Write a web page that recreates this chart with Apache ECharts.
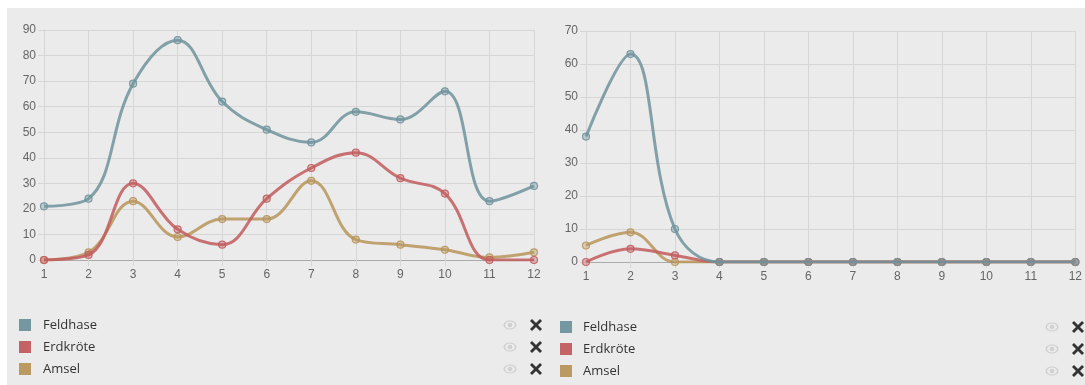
<!DOCTYPE html>
<html><head><meta charset="utf-8">
<script src="https://cdn.jsdelivr.net/npm/echarts@6/dist/echarts.min.js"></script>
<style>html,body{margin:0;padding:0;background:#fff}#c{width:1085px;height:385px}</style>
</head><body><div id="c"></div>
<script>
const months = ['1','2','3','4','5','6','7','8','9','10','11','12'];
const seriesNames = ['Feldhase','Erdkröte','Amsel'];
const seriesColors = ['#6f939c','#c25c5e','#b8955c'];
const leftFeldhase = [21,24,69,86,62,51,46,58,55,66,23,29];
const leftErdkroete = [0,2,30,12,6,24,36,42,32,26,0,0];
const leftAmsel = [0,3,23,9,16,16,31,8,6,4,1,3];
const rightFeldhase = [38,63,10,0,0,0,0,0,0,0,0,0];
const rightErdkroete = [0,4,2,0,0,0,0,0,0,0,0,0];
const rightAmsel = [5,9,0,0,0,0,0,0,0,0,0,0];
const leftYTicks = {min:0,max:90,interval:10};
const rightYTicks = {min:0,max:70,interval:10};

const chart = echarts.init(document.getElementById('c'));
const labelFont = {color:'#666',fontSize:12,fontFamily:'Liberation Sans, Arial, sans-serif'};
function xAxis(i){return {type:'category',gridIndex:i,data:months,boundaryGap:false,
  axisLine:{lineStyle:{color:'#aaa',width:1}},axisTick:{show:true,length:6,alignWithLabel:true,lineStyle:{color:'#d6d6d6'}},
  axisLabel:Object.assign({margin:9},labelFont),splitLine:{show:true,lineStyle:{color:'#d6d6d6'}}};}
function yAxis(i,t){return {type:'value',gridIndex:i,min:t.min,max:t.max,interval:t.interval,
  axisLine:{show:true,lineStyle:{color:'#d6d6d6'}},axisTick:{show:true,length:6,lineStyle:{color:'#d6d6d6'}},
  axisLabel:Object.assign({margin:8},labelFont),splitLine:{show:true,lineStyle:{color:'#d6d6d6'}}};}
function line(name,data,idx,gi){
  const c=seriesColors[idx];
  return {type:'line',name:name,xAxisIndex:gi,yAxisIndex:gi,data:data,smooth:0.4,
    symbol:'circle',symbolSize:7,showSymbol:true,
    lineStyle:{color:c,width:3,opacity:0.85},
    itemStyle:{color:echarts.color.modifyAlpha(c,0.4),borderColor:c,borderWidth:1.2,opacity:0.9},
    z:10-idx,animation:false};
}
const graphics=[{type:'rect',shape:{x:7,y:8,width:1078,height:377},style:{fill:'#ebebeb'},z:-10}];
function legend(x0,textX,eyeX,crossX,yc){
  seriesNames.forEach((n,i)=>{
    const y=yc+i*22;
    graphics.push({type:'rect',shape:{x:x0,y:y-6,width:12,height:12},style:{fill:seriesColors[i],opacity:0.95}});
    graphics.push({type:'text',x:textX,y:y,style:{text:n,fill:'#333',fontSize:13,fontFamily:'Open Sans, sans-serif',verticalAlign:'middle'}});
    graphics.push({type:'ring',shape:{cx:0,cy:0,r:6.5,r0:5},x:eyeX,y:y,scaleY:0.7,style:{fill:'#d0d0d0'}});
    graphics.push({type:'circle',shape:{cx:eyeX,cy:y,r:2.3},style:{fill:'#d0d0d0'}});
    graphics.push({type:'line',shape:{x1:crossX-5,y1:y-5,x2:crossX+5,y2:y+5},style:{stroke:'#333',lineWidth:2.8}});
    graphics.push({type:'line',shape:{x1:crossX-5,y1:y+5,x2:crossX+5,y2:y-5},style:{stroke:'#333',lineWidth:2.8}});
  });
}
legend(19,43,510,536,325);
legend(560,583,1052,1078,327);

chart.setOption({
  backgroundColor:'#ffffff',
  animation:false,
  grid:[{left:44,right:551,top:30,bottom:125},{left:586,right:8,top:31,bottom:123}],
  xAxis:[xAxis(0),xAxis(1)],
  yAxis:[yAxis(0,leftYTicks),yAxis(1,rightYTicks)],
  series:[
    line('Feldhase',leftFeldhase,0,0),line('Erdkröte',leftErdkroete,1,0),line('Amsel',leftAmsel,2,0),
    line('Feldhase',rightFeldhase,0,1),line('Erdkröte',rightErdkroete,1,1),line('Amsel',rightAmsel,2,1)
  ],
  graphic:graphics
});
</script></body></html>
